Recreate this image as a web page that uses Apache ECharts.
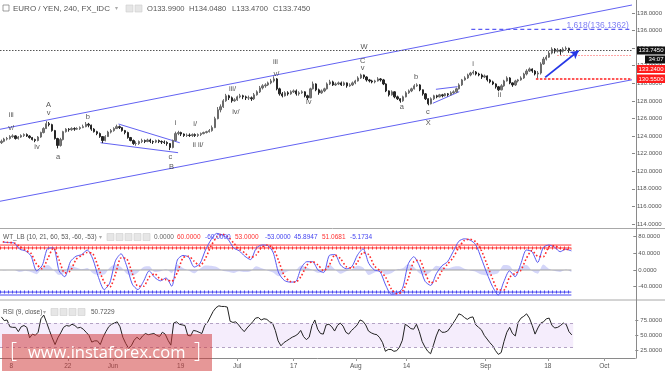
<!DOCTYPE html>
<html><head><meta charset="utf-8">
<script src="https://cdn.jsdelivr.net/npm/echarts/dist/echarts.min.js"></script>
<style>html,body{margin:0;padding:0;background:#fff}#c{width:665px;height:371px}</style>
</head><body><div id="c"></div><script>
// ---- price: half-day bars from May 4 2017 (slot index) ----
const closes = [
123.40,123.66,123.72,123.94,124.02,123.72,123.89,124.06,124.17,124.00,
123.83,123.60,123.49,123.89,124.40,124.85,125.41,125.30,124.62,123.72,
122.93,123.60,124.50,124.79,124.73,124.85,124.79,124.85,124.96,125.07,
125.35,125.24,124.79,124.50,124.28,123.94,123.49,123.94,124.45,124.62,
124.85,125.07,124.96,124.62,124.40,123.83,123.49,123.15,123.15,123.38,
123.49,123.38,123.55,123.38,123.32,123.49,123.38,123.32,123.27,123.15,
122.70,123.49,124.28,124.40,124.23,124.06,124.11,124.06,124.17,124.06,
124.17,124.28,124.40,124.50,124.62,124.96,125.98,126.99,127.33,128.01,
128.58,128.35,128.01,128.12,128.46,128.58,128.46,128.35,128.35,128.24,
128.69,129.03,129.48,129.71,129.82,130.05,130.27,130.50,129.37,128.80,
128.58,128.92,128.80,129.03,129.14,128.80,128.92,129.03,128.58,128.35,
129.37,129.93,129.26,128.92,129.14,129.37,129.93,130.16,129.82,129.93,
130.05,129.82,130.05,129.71,129.82,130.05,130.27,130.61,130.95,130.72,
130.39,130.27,130.16,130.27,130.50,130.39,129.93,129.14,128.69,129.03,
128.46,128.24,128.01,128.46,128.92,129.14,129.37,129.71,129.82,129.26,
128.80,128.24,127.67,128.24,128.58,128.46,128.69,128.58,128.80,128.69,
128.92,129.03,129.37,129.82,130.39,130.61,130.95,131.17,131.29,131.06,
130.95,130.72,130.84,130.39,130.16,129.93,129.60,129.26,129.71,130.27,
130.61,130.05,129.82,130.27,130.39,130.61,131.06,131.40,131.63,131.40,
131.06,131.17,132.20,132.76,132.98,133.44,133.89,133.66,133.78,133.66,
133.89,133.99,133.745];
const lows = [
123.1,123.3,123.5,123.6,123.8,123.6,123.6,123.8,123.9,123.9,
123.7,123.5,123.3,123.4,123.8,124.3,124.8,125.1,124.5,123.6,
122.6,122.8,123.5,124.4,124.5,124.6,124.6,124.7,124.7,124.9,
125.0,125.0,124.6,124.4,124.1,123.8,123.2,123.4,123.9,124.3,
124.5,124.8,124.8,124.5,124.2,123.7,123.4,123.0,122.9,123.0,
123.2,123.2,123.3,123.2,123.1,123.2,123.2,123.1,123.1,122.9,
122.4,122.6,123.4,124.1,124.0,123.9,123.9,123.9,123.9,123.9,
123.9,124.0,124.2,124.3,124.4,124.5,124.9,125.9,126.7,127.2,
127.9,128.1,127.8,127.9,128.0,128.3,128.2,128.1,128.1,128.0,
128.1,128.6,128.9,129.3,129.5,129.7,129.9,130.1,129.2,128.6,
128.4,128.5,128.6,128.7,128.9,128.6,128.6,128.8,128.4,128.1,
128.3,129.3,129.1,128.7,128.8,129.0,129.3,129.8,129.7,129.7,
129.8,129.7,129.7,129.5,129.6,129.7,129.9,130.2,130.5,130.5,
130.2,130.1,130.0,130.0,130.2,130.2,129.8,129.0,128.5,128.6,
128.3,128.1,127.8,127.9,128.4,128.8,129.0,129.3,129.6,129.1,
128.6,128.1,127.5,127.6,128.1,128.3,128.4,128.4,128.5,128.5,
128.6,128.8,128.9,129.3,129.7,130.3,130.5,130.8,131.0,130.9,
130.8,130.5,130.6,130.2,130.0,129.8,129.4,129.1,129.2,129.6,
130.2,129.9,129.6,129.7,130.1,130.3,130.5,130.9,131.3,131.2,
130.9,130.55,131.0,132.1,132.6,132.9,133.3,133.4,133.5,133.24,
133.5,133.7,133.47];
const highs = [
123.6,123.8,123.9,124.1,124.2,124.1,124.0,124.2,124.3,124.3,
124.1,123.9,123.7,124.0,124.5,125.0,125.7,125.6,125.4,124.7,
123.8,123.8,124.6,124.9,124.9,125.0,125.0,125.0,125.1,125.3,
125.6,125.5,125.3,124.9,124.6,124.4,124.0,124.1,124.6,124.8,
125.0,125.3,125.2,125.0,124.7,124.5,123.9,123.6,123.4,123.5,
123.7,123.6,123.7,123.7,123.5,123.6,123.6,123.5,123.5,123.4,
123.2,123.6,124.5,124.6,124.5,124.3,124.3,124.3,124.3,124.3,
124.3,124.4,124.5,124.6,124.8,125.2,126.2,127.3,127.6,128.2,
128.8,128.7,128.5,128.3,128.6,128.8,128.7,128.6,128.6,128.5,
128.9,129.2,129.7,129.9,130.0,130.2,130.5,130.8,130.6,129.5,
129.0,129.1,129.1,129.2,129.3,129.3,129.1,129.2,129.1,128.7,
129.5,130.2,130.0,129.4,129.3,129.5,130.1,130.4,130.3,130.1,
130.2,130.2,130.2,130.1,130.0,130.2,130.4,130.8,131.1,131.0,
130.8,130.5,130.4,130.4,130.7,130.6,130.5,130.0,129.2,129.2,
129.1,128.6,128.3,128.6,129.1,129.3,129.5,129.9,130.0,129.9,
129.3,128.9,128.3,128.4,128.7,128.7,128.8,128.8,128.9,128.9,
129.1,129.2,129.5,130.0,130.5,130.8,131.1,131.3,131.5,131.4,
131.2,131.1,131.0,130.9,130.5,130.3,130.0,129.7,129.9,130.4,
130.8,130.7,130.1,130.4,130.5,130.8,131.2,131.6,131.8,131.7,
131.5,131.4,132.4,133.0,133.2,133.7,134.1,134.0,134.0,133.9,
134.1,134.2,134.05];
const firstOpen = 123.25;

// ---- WT_LB: one value per trading day from May 4 ----
const wt1 = [67,66,65,50,46,34,-2,11,52,53,-2,-16,20,33,37,48,26,-18,-47,-31,
22,39,10,-34,-47,-27,-2,-18,-26,-19,-39,24,35,31,7,15,48,73,88,84,
74,53,46,33,25,52,60,59,43,-7,-25,-29,-28,5,20,20,0,-6,35,37,
12,3,8,36,51,16,0,-4,-36,-58,-56,-44,14,32,10,-27,-37,-9,10,20,
44,69,75,72,61,28,-8,-40,-60,-28,-2,-16,14,48,44,18,54,60,55,44,50,45.8947];
const wt2 = [68,66,65,57,48,40,14,3,28,53,24,-7,-2,25,35,42,39,5,-29,-41,
-10,29,27,-8,-39,-39,-17,-9,-22,-23,-27,-6,29,33,21,10,28,58,79,86,
80,65,50,41,30,36,55,60,53,22,-14,-27,-29,-15,11,20,12,-2,12,36,
27,8,5,19,42,37,10,-2,-17,-45,-57,-51,-21,20,24,-6,-31,-26,-2,14,
30,54,71,74,68,47,14,-21,-48,-48,-18,-8,-1,28,47,33,32,56,58,52,49,51.0681];
const wtHist = [-1,0,0,-5,-2,-5,-10,6,12,0,-12,-6,11,6,2,5,-8,-12,-11,6,
13,7,-9,-14,-6,7,9,-5,-3,2,-7,14,5,-1,-8,3,11,10,7,-1,
-4,-7,-3,-5,-3,9,4,-1,-6,-15,-7,-1,0,11,6,0,-7,-3,13,1,
-9,-3,2,10,6,-12,-6,-1,-11,-8,1,4,14,8,-8,-12,-4,10,7,4,
8,9,3,-1,-4,-11,-13,-11,-7,12,10,-5,9,12,-2,-9,13,3,-2,-5,1,-5.1734];
const wtLevels = [60, 53, -53, -60];

// ---- RSI(9): one value per half-day slot ----
const rsi = [80,74,75,64,63,63,56,64,66,63,46,52,50,55,77,83,71,58,46,35,
46,54,63,66,65,68,66,62,63,60,55,50,39,41,41,35,47,56,64,68,
70,72,64,47,37,29,33,42,47,43,49,53,51,52,53,50,48,55,52,42,
34,70,72,68,67,66,50,49,58,57,55,53,66,71,80,89,95,98,97,97,
96,73,71,72,67,61,56,62,67,72,78,79,75,77,76,72,70,58,41,33,
38,41,44,47,49,52,58,48,43,47,66,75,60,53,52,67,68,64,57,66,
70,65,55,52,58,62,67,75,73,67,57,54,52,51,46,38,24,27,27,24,
25,31,42,68,65,61,60,68,56,40,31,24,20,34,49,60,55,55,57,63,
70,77,85,83,79,76,79,80,67,63,59,50,44,38,33,25,19,22,40,55,
63,53,49,71,78,81,85,78,66,52,62,70,72,77,78,66,62,63,66,70,
68,56,50.7229];
const rsiBand = [30, 70];

// ---- axes ----
const priceTicks = [114,116,118,120,122,124,126,128,130,132,134,136,138];
const wtTicks = [80,40,0,-40];
const rsiTicks = [75,50,25];
const dateLabels = ['8','22','Jun','19','Jul','17','Aug','14','Sep','18','Oct'];
const dateDays = [0,10,18,30,40,50,61,70,84,95,105]; // trading days counted from May 8

// ---- annotations [text, slot, price] ----
const waveLabels = [
 ['iii',3.5,126.4],['v/',3.5,124.88],['iv',12.7,122.72],['A',16.8,127.53],['v',16.8,126.59],
 ['a',20.2,121.65],['b',30.8,126.13],['c',60.2,121.65],['B',60.6,120.45],['i',62,125.45],
 ['i/',69,125.37],['ii ii/',70,122.98],['iii/',82.3,129.32],['iv/',83.5,126.77],['iii',97.6,132.39],
 ['v/',97.9,131.06],['iv',109.4,127.91],['W',129.1,134.1],['C',128.6,132.57],['v',128.6,131.78],
 ['a',142.6,127.27],['b',147.6,130.75],['c',151.8,126.77],['X',152,125.45],['i',167.9,132.2],['ii',177.3,128.67]
];
const channelUpper = [[-0.5,124.77],[224.5,138.91]];
const channelLower = [[-0.5,116.58],[224.5,130.40]];
const triangleA = [[[41.7,125.37],[63.5,123.24]],[[35.3,123.24],[62.9,122.11]]];
const triangleB = [[[154.7,129.32],[162.4,129.62]],[[153.6,127.73],[163.0,129.05]]];
const arrowPts = [[193.6,130.68],[205.5,133.71]];
const fibLevel = 136.1362, fibStart = 167.3, fibText = '1.618(136.1362)';
const lastPrice = 133.745, level1 = 130.55, level2 = 133.24;

const FONT = '"Liberation Sans", Arial, sans-serif';
const dataEnd = closes.length - 0.5;
const ohlc = closes.map((c,i)=>[i, i ? closes[i-1] : firstOpen, c, lows[i], highs[i]]);
const dateSlots = dateDays.map(d => 2*d + 3.5);

function seg(pts, color, width, type, gi, z) {
  return {type:'line', xAxisIndex:gi||0, yAxisIndex:gi||0, data:pts, symbol:'none', silent:true,
    lineStyle:{color:color, width:width, type:type||'solid'}, z:z||3};
}
const xBase = {type:'value', min:-0.5, max:224.5, splitLine:{show:false}};
const G = {left:-1.3, width:637.3};

const series = [];
series.push({
  type:'candlestick', xAxisIndex:0, yAxisIndex:0, data:ohlc, barWidth:1.8, z:4,
  itemStyle:{color:'#7a7a7a', color0:'#262626', borderColor:'#6a6a6a', borderColor0:'#262626', borderWidth:1},
  markLine:{silent:true, symbol:'none', label:{show:false}, animation:false, data:[
    {yAxis:lastPrice, lineStyle:{type:[1.5,1.5], color:'#555', width:1}},
    [{coord:[190.3,level1], lineStyle:{type:[2.5,1.5], color:'#ff2020', width:1.5}},{coord:[224.5,level1]}],
    [{coord:[197.9,level2], lineStyle:{type:[1.5,1.5], color:'#ff8a8a', width:1.2}},{coord:[224.5,level2]}]
  ]}
});
series.push(seg(channelUpper,'#6262f2',1));
series.push(seg(channelLower,'#6262f2',1));
triangleA.concat(triangleB).forEach(p=>series.push(seg(p,'#6262f2',1)));
series.push(seg([[fibStart,fibLevel],[224.5,fibLevel]],'#5c5cf4',1.2,[4,3]));
series.push({type:'line', xAxisIndex:0, yAxisIndex:0, data:[], symbol:'none',
  markLine:{silent:true, animation:false, symbol:['none','arrow'], symbolSize:[7,8], label:{show:false},
    lineStyle:{color:'#2637e6', width:1.8, type:'solid'},
    data:[[{coord:arrowPts[0]},{coord:arrowPts[1]}]]}});
series.push({type:'scatter', xAxisIndex:0, yAxisIndex:0, symbolSize:1, itemStyle:{color:'rgba(0,0,0,0)'}, z:6, silent:true,
  data:waveLabels.map(w=>({value:[w[1],w[2]], name:w[0]})),
  label:{show:true, position:'inside', formatter:p=>p.name, color:'#2a2a2a', fontSize:7.5, fontFamily:FONT}});
series.push({type:'scatter', xAxisIndex:0, yAxisIndex:0, symbolSize:1, itemStyle:{color:'rgba(0,0,0,0)'}, z:6, silent:true,
  data:[{value:[223.4,fibLevel+0.45], name:fibText}],
  label:{show:true, position:'inside', align:'right', formatter:p=>p.name, color:'#6060f0', fontSize:8.5, fontFamily:FONT}});

// WT panel
series.push({type:'line', xAxisIndex:1, yAxisIndex:1, data:wtHist.map((v,i)=>[2*i+0.5,v]), symbol:'none', smooth:0.3, silent:true,
  lineStyle:{width:0}, areaStyle:{color:'rgba(120,125,235,0.45)', origin:0}, z:2});
series.push(seg([[-0.5,0],[dataEnd,0]],'#a0a0a0',1.2,'solid',1,2));
const lvlColors = ['#ff3535','#ff3535','#4848f0','#4848f0'];
wtLevels.forEach((lv,k)=>{
  series.push(seg([[-0.5,lv],[dataEnd,lv]], lvlColors[k], 1, 'solid', 1, 3));
  if (k===1 || k===2) series.push(seg([[-0.5,lv],[dataEnd,lv]], lvlColors[k], 3, [1,3], 1, 3));
});
series.push({type:'line', xAxisIndex:1, yAxisIndex:1, data:wt1.map((v,i)=>[2*i+0.5,v]), symbol:'none', smooth:0.25, silent:true,
  lineStyle:{color:'#5a5af2', width:1}, z:4});
series.push({type:'line', xAxisIndex:1, yAxisIndex:1, data:wt2.map((v,i)=>[2*i+0.5,v]), symbol:'none', smooth:0.25, silent:true,
  lineStyle:{color:'#ff2a2a', width:1.6, type:[1.6,2.2]}, z:5});

// RSI panel
series.push({type:'line', xAxisIndex:2, yAxisIndex:2, data:rsi.map((v,i)=>[i,v]), symbol:'none', silent:true,
  lineStyle:{color:'#222', width:1}, z:4,
  markArea:{silent:true, itemStyle:{color:'rgba(160,90,225,0.11)'}, data:[[{coord:[-0.5,rsiBand[0]]},{coord:[dataEnd,rsiBand[1]]}]]},
  markLine:{silent:true, symbol:'none', label:{show:false}, animation:false, lineStyle:{type:[3,3], color:'#b3a3c4', width:1},
    data:[[{coord:[-0.5,rsiBand[1]]},{coord:[dataEnd,rsiBand[1]]}],[{coord:[-0.5,rsiBand[0]]},{coord:[dataEnd,rsiBand[0]]}]]}});

function yAx(gi, min, max, ticks) {
  return {type:'value', gridIndex:gi, position:'right', min:min, max:max, splitLine:{show:false},
    axisLine:{show:false, onZero:false},
    axisTick:{show:true, length:3, lineStyle:{color:'#888'}, customValues:ticks},
    axisLabel:{customValues:ticks, formatter:v=>Number(v).toFixed(4), fontSize:6, color:'#555', margin:5, fontFamily:FONT}};
}

// header / decorations
const T = (x,y,text,fill,size)=>({type:'text', x:x, y:y, silent:true, z:100,
  style:{text:text, fill:fill||'#555', font:(size||8)+'px '+FONT, textVerticalAlign:'middle'}});
const icon = (x,y)=>({type:'rect', silent:true, z:100, shape:{x:x,y:y,width:7,height:7}, style:{fill:'#e6e6e6', stroke:'#cfcfcf', lineWidth:0.6}});
const L = (x1,y1,x2,y2,c,w)=>({type:'line', silent:true, z:90, shape:{x1,y1,x2,y2}, style:{stroke:c, lineWidth:w||1}});
const box = (x,y,w,h,fill,text)=>[
  {type:'rect', silent:true, z:110, shape:{x:x,y:y,width:w,height:h}, style:{fill:fill}},
  {type:'text', silent:true, z:111, x:x+w-1.5, y:y+h/2+0.3, style:{text:text, fill:'#fff', font:'6px '+FONT, textAlign:'right', textVerticalAlign:'middle'}}
];

const graphics = [
  L(0,228.5,665,228.5,'#a8a8a8',1), L(0,300,665,300,'#a8a8a8',1), L(636.5,0,636.5,358.5,'#8a8a8a',1),
  {type:'rect', silent:true, z:100, shape:{x:3,y:5,width:6,height:6}, style:{fill:'#fff', stroke:'#777', lineWidth:0.7}},
  L(4.5,8,7.5,8,'#777',0.7),
  T(13,8.5,'EURO / YEN, 240, FX_IDC','#555',8),
  T(115,8.5,'▾','#aaa',6),
  icon(126,5), icon(135,5),
  T(147,8.5,'O133.9900','#555',7.6), T(189,8.5,'H134.0480','#555',7.6),
  T(232,8.5,'L133.4700','#555',7.6), T(273,8.5,'C133.7450','#555',7.6),
  T(3,237,'WT_LB (10, 21, 60, 53, -60, -53)','#555',6.5),
  T(99,237,'▾','#aaa',5.5),
  icon(107,233.5), icon(116,233.5), icon(125,233.5), icon(134,233.5), icon(143,233.5),
  T(154,237,'0.0000','#666',6.5), T(177,237,'60.0000','#ff3030',6.5), T(205,237,'-60.0000','#4545f0',6.5),
  T(235,237,'53.0000','#ff3030',6.5), T(265,237,'-53.0000','#4545f0',6.5), T(294,237,'45.8947','#4545f0',6.5),
  T(322,237,'51.0681','#ff3030',6.5), T(350,237,'-5.1734','#4545f0',6.5),
  T(3,312,'RSI (9, close)','#555',6.5),
  T(43,312,'▾','#aaa',5.5),
  icon(51,308.5), icon(60,308.5), icon(69,308.5), icon(78,308.5),
  T(91,312,'50.7229','#555',6.5),
].concat(
  box(637,46.5,28,8,'#111','133.7450'),
  box(645,55.5,20,8,'#111','34:07'),
  box(637,65,28,8,'#ff1c1c','133.2400'),
  box(637,74.5,28,8.5,'#ff1c1c','130.5500'),
  [
    {type:'rect', silent:true, z:200, shape:{x:2,y:334,width:210,height:37}, style:{fill:'rgba(208,55,55,0.52)'}},
    {type:'text', silent:true, z:201, x:10, y:352, style:{text:'[', fill:'#fff', font:'300 22px "Open Sans", sans-serif', textVerticalAlign:'middle'}},
    {type:'text', silent:true, z:201, x:28, y:353, style:{text:'www.instaforex.com', fill:'#fff', font:'16.5px "Open Sans", sans-serif', textVerticalAlign:'middle'}},
    {type:'text', silent:true, z:201, x:194, y:352, style:{text:']', fill:'#fff', font:'300 22px "Open Sans", sans-serif', textVerticalAlign:'middle'}}
  ]);

const chart = echarts.init(document.getElementById('c'), null, {renderer:'canvas', width:665, height:371});
chart.setOption({
  animation:false,
  backgroundColor:'#fff',
  grid:[
    Object.assign({top:0, height:228}, G),
    Object.assign({top:229, height:70}, G),
    Object.assign({top:301, height:57}, G)
  ],
  xAxis:[
    Object.assign({gridIndex:0, show:false}, xBase),
    Object.assign({gridIndex:1, show:false}, xBase),
    Object.assign({gridIndex:2,
      axisLine:{show:true, onZero:false, lineStyle:{color:'#8a8a8a'}},
      axisTick:{show:true, length:3, inside:false, lineStyle:{color:'#999'}, customValues:dateSlots},
      axisLabel:{customValues:dateSlots, formatter:v=>{const k=dateSlots.findIndex(s=>Math.abs(s-v)<0.01); return k>=0?dateLabels[k]:'';},
        fontSize:6.5, color:'#555', margin:5, fontFamily:FONT}}, xBase)
  ],
  yAxis:[
    yAx(0,113.54,139.48,priceTicks),
    yAx(1,-69.6,98.5,wtTicks),
    yAx(2,13.1,105.9,rsiTicks)
  ],
  series:series,
  graphic:{elements:graphics}
});
</script></body></html>
